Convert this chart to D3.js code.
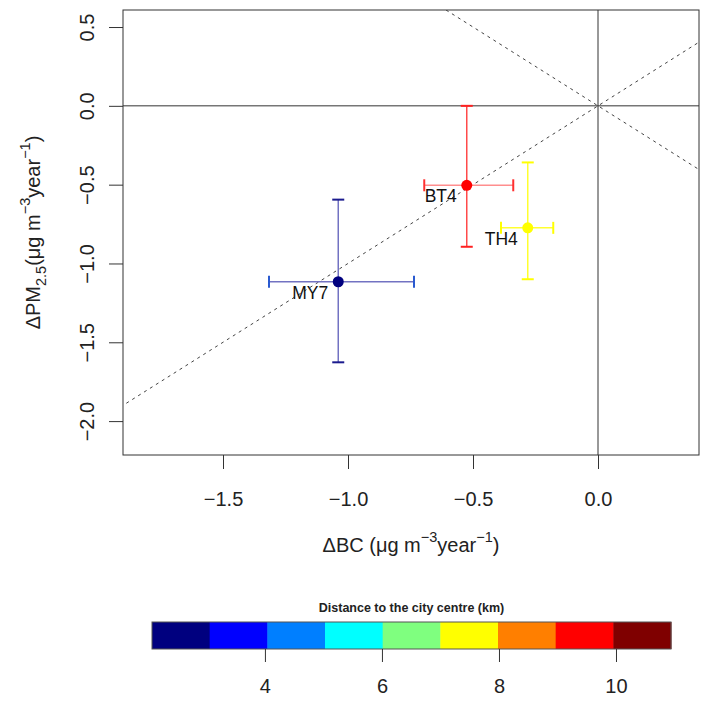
<!DOCTYPE html>
<html>
<head>
<meta charset="utf-8">
<script src="https://cdn.jsdelivr.net/npm/d3@7"></script>
<style>
  body { margin: 0; background: #fff; }
  svg text { font-family: "Liberation Sans", Arial, sans-serif; }
</style>
</head>
<body>
<div id="chart"></div>
<script>
// ---------------- Data ----------------
const sites = ["MY7", "BT4", "TH4"];
const dBC = [-1.039, -0.525, -0.281];
const dBCLow = [-1.316, -0.695, -0.388];
const dBCHigh = [-0.736, -0.339, -0.179];
const dPM = [-1.116, -0.504, -0.774];
const dPMLow = [-1.627, -0.894, -1.100];
const dPMHigh = [-0.595, 0.0, -0.359];
const distance = [2.5, 9.5, 7.5]; // km, bin colour only

const xTicks = [-1.5, -1.0, -0.5, 0.0];
const yTicks = [0.5, 0.0, -0.5, -1.0, -1.5, -2.0];
const legendTicks = [4, 6, 8, 10];
const jetColors = ["#00007F", "#0000FF", "#007FFF", "#00FFFF", "#7FFF7F",
                   "#FFFF00", "#FF7F00", "#FF0000", "#7F0000"];
const legendRange = [2.07, 10.94];

// error bar styling per site (lines drawn semi-transparent)
const barColor = ["#7272c2", "#ff4a4a", "#ffff30"];
const hBarColor = ["#7272c2", "#ff8e8e", "#ffff30"];
const capColor = ["#1b1b8e", "#ff2020", "#ffff00"];
const hCapColor = ["#2a5ad0", "#ff3030", "#ffff00"];

// ---------------- Layout ----------------
const W = 701, H = 702;
const plot = { left: 123, right: 699, top: 10, bottom: 455 };

const svg = d3.select("#chart").append("svg")
    .attr("width", W).attr("height", H);

const x = d3.scaleLinear().domain([-1.9, 0.404]).range([plot.left, plot.right]);
const y = d3.scaleLinear().domain([-2.215, 0.608]).range([plot.bottom, plot.top]);

const g = svg.append("g");

// clip for reference lines
svg.append("clipPath").attr("id", "clip")
  .append("rect")
    .attr("x", plot.left).attr("y", plot.top)
    .attr("width", plot.right - plot.left).attr("height", plot.bottom - plot.top);

const refs = g.append("g").attr("clip-path", "url(#clip)");

// zero lines
refs.append("line")
    .attr("x1", x(0)).attr("x2", x(0))
    .attr("y1", plot.top).attr("y2", plot.bottom)
    .attr("stroke", "#333").attr("stroke-width", 1);
refs.append("line")
    .attr("x1", plot.left).attr("x2", plot.right)
    .attr("y1", y(0)).attr("y2", y(0))
    .attr("stroke", "#333").attr("stroke-width", 1);

// 1:1 and -1:1 dashed lines
[1, -1].forEach(s => {
    refs.append("line")
        .attr("x1", x(-3)).attr("y1", y(-3 * s))
        .attr("x2", x(3)).attr("y2", y(3 * s))
        .attr("stroke", "#444").attr("stroke-width", 1)
        .attr("stroke-dasharray", "3,4");
});

// ---------------- Error bars ----------------
const cap = 6;
sites.forEach((name, i) => {
    const cx = x(dBC[i]), cy = y(dPM[i]);
    // vertical
    g.append("line")
        .attr("x1", cx).attr("x2", cx)
        .attr("y1", y(dPMLow[i])).attr("y2", y(dPMHigh[i]))
        .attr("stroke", barColor[i]).attr("stroke-width", 1.5);
    [dPMLow[i], dPMHigh[i]].forEach(v => {
        g.append("line")
            .attr("x1", cx - cap).attr("x2", cx + cap)
            .attr("y1", y(v)).attr("y2", y(v))
            .attr("stroke", capColor[i]).attr("stroke-width", 2);
    });
    // horizontal
    g.append("line")
        .attr("x1", x(dBCLow[i])).attr("x2", x(dBCHigh[i]))
        .attr("y1", cy).attr("y2", cy)
        .attr("stroke", hBarColor[i]).attr("stroke-width", 1.5);
    [dBCLow[i], dBCHigh[i]].forEach(v => {
        g.append("line")
            .attr("x1", x(v)).attr("x2", x(v))
            .attr("y1", cy - cap).attr("y2", cy + cap)
            .attr("stroke", hCapColor[i]).attr("stroke-width", 2);
    });
});

// ---------------- Points & labels ----------------
const colorScale = d3.scaleQuantize().domain(legendRange).range(jetColors);

g.selectAll(".pt")
  .data(sites)
  .join("circle")
    .attr("class", "pt")
    .attr("cx", (d, i) => x(dBC[i]))
    .attr("cy", (d, i) => y(dPM[i]))
    .attr("r", 5.5)
    .attr("fill", (d, i) => colorScale(distance[i]));

g.selectAll(".lbl")
  .data(sites)
  .join("text")
    .attr("class", "lbl")
    .attr("x", (d, i) => x(dBC[i]) - 10)
    .attr("y", (d, i) => y(dPM[i]) + 11)
    .attr("text-anchor", "end")
    .attr("dominant-baseline", "central")
    .attr("font-size", 17.5)
    .attr("fill", "#111")
    .text(d => d);

// ---------------- Box & axes ----------------
g.append("rect")
    .attr("x", plot.left).attr("y", plot.top)
    .attr("width", plot.right - plot.left).attr("height", plot.bottom - plot.top)
    .attr("fill", "none").attr("stroke", "#333").attr("stroke-width", 1);

const fmt = d => d3.format(".1f")(d).replace("-", "\u2212");

const xAxis = d3.axisBottom(x).tickValues(xTicks).tickSize(14).tickPadding(23).tickFormat(fmt);
const xg = svg.append("g").attr("transform", `translate(0,${plot.bottom})`).call(xAxis);
xg.select(".domain").remove();
xg.selectAll("line").attr("stroke", "#333");
xg.selectAll("text").attr("font-size", 20).attr("fill", "#222");

const yAxis = d3.axisLeft(y).tickValues(yTicks).tickSize(14).tickFormat(fmt);
const yg = svg.append("g").attr("transform", `translate(${plot.left},0)`).call(yAxis);
yg.select(".domain").remove();
yg.selectAll("line").attr("stroke", "#333");
yg.selectAll("text")
    .attr("font-size", 20).attr("fill", "#222")
    .attr("x", null).attr("dy", null).attr("y", null)
    .attr("text-anchor", "middle")
    .attr("dominant-baseline", "central")
    .attr("transform", "translate(-36,0) rotate(-90)");

// axis titles
const xt = svg.append("text")
    .attr("x", (plot.left + plot.right) / 2).attr("y", 545)
    .attr("text-anchor", "middle").attr("dominant-baseline", "central")
    .attr("font-size", 20).attr("fill", "#222");
xt.append("tspan").text("\u0394BC (\u03bcg m");
xt.append("tspan").attr("baseline-shift", "super").attr("font-size", 14.5).text("\u22123");
xt.append("tspan").text("year");
xt.append("tspan").attr("baseline-shift", "super").attr("font-size", 14.5).text("\u22121");
xt.append("tspan").text(")");

const yt = svg.append("text")
    .attr("transform", `translate(33,${(plot.top + plot.bottom) / 2}) rotate(-90)`)
    .attr("text-anchor", "middle").attr("dominant-baseline", "central")
    .attr("font-size", 20).attr("fill", "#222");
yt.append("tspan").text("\u0394PM");
yt.append("tspan").attr("baseline-shift", "sub").attr("font-size", 14.5).text("2.5");
yt.append("tspan").text("(\u03bcg m");
yt.append("tspan").attr("baseline-shift", "super").attr("font-size", 14.5).text("\u22123");
yt.append("tspan").text("year");
yt.append("tspan").attr("baseline-shift", "super").attr("font-size", 14.5).text("\u22121");
yt.append("tspan").text(")");

// ---------------- Colour legend ----------------
const leg = { left: 152, right: 671, top: 622, bottom: 649 };
const lx = d3.scaleLinear().domain(legendRange).range([leg.left, leg.right]);
const binW = (legendRange[1] - legendRange[0]) / jetColors.length;

svg.append("text")
    .attr("x", (leg.left + leg.right) / 2).attr("y", 608)
    .attr("text-anchor", "middle").attr("dominant-baseline", "central")
    .attr("font-size", 12.5).attr("font-weight", "bold").attr("fill", "#222")
    .text("Distance to the city centre (km)");

svg.append("g").selectAll("rect")
  .data(jetColors)
  .join("rect")
    .attr("x", (d, i) => lx(legendRange[0] + i * binW))
    .attr("width", (d, i) => lx(legendRange[0] + (i + 1) * binW) - lx(legendRange[0] + i * binW) + 0.5)
    .attr("y", leg.top).attr("height", leg.bottom - leg.top)
    .attr("fill", d => d);

svg.append("rect")
    .attr("x", leg.left).attr("y", leg.top)
    .attr("width", leg.right - leg.left).attr("height", leg.bottom - leg.top)
    .attr("fill", "none").attr("stroke", "#555").attr("stroke-width", 1);

const lAxis = d3.axisBottom(lx).tickValues(legendTicks).tickSize(13).tickPadding(17).tickFormat(d3.format("d"));
const lg = svg.append("g").attr("transform", `translate(0,${leg.bottom})`).call(lAxis);
lg.select(".domain").remove();
lg.selectAll("line").attr("stroke", "#333");
lg.selectAll("text").attr("font-size", 20).attr("fill", "#222");
</script>
</body>
</html>
